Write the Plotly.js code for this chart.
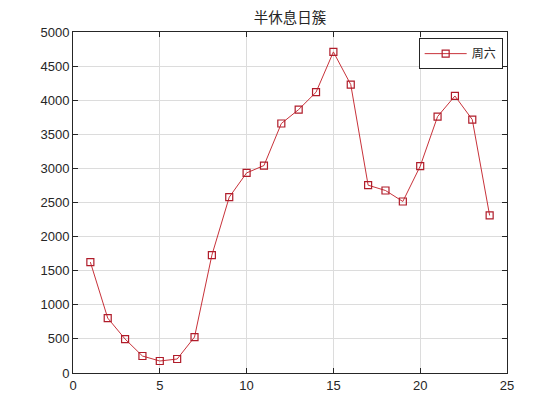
<!DOCTYPE html>
<html><head><meta charset="utf-8">
<script src="https://cdn.plot.ly/plotly-3.0.1.min.js"></script>
<style>html,body{margin:0;padding:0;background:#fff}#c{width:560px;height:420px}</style>
</head><body><div id="c"></div>
<script>
var hours = [1,2,3,4,5,6,7,8,9,10,11,12,13,14,15,16,17,18,19,20,21,22,23,24];
var saturday = [1626,805,498,249,176,205,527,1728,2578,2934,3042,3658,3863,4117,4708,4229,2754,2676,2515,3032,3760,4062,3716,2310];
var seriesName = '周六';
var chartTitle = '半休息日簇';

var axisCommon = {
  showline: true, mirror: 'ticks', linecolor: '#262626', linewidth: 1,
  ticks: 'inside', ticklen: 5, tickcolor: '#262626',
  showgrid: true, gridcolor: '#dcdcdc', gridwidth: 1, zeroline: false,
  tickfont: {family: 'Liberation Sans, Arial, sans-serif', size: 13, color: '#262626'}
};
var layout = {
  width: 560, height: 420,
  margin: {l: 73, r: 53, t: 32, b: 47},
  paper_bgcolor: '#fff', plot_bgcolor: '#fff',
  title: {text: chartTitle, x: 0.518, xanchor: 'center', y: 0.958, yanchor: 'middle',
          font: {family: 'Noto Sans CJK SC, sans-serif', size: 14.5, color: '#262626'}},
  xaxis: Object.assign({}, axisCommon, {range: [0, 25], tickvals: [0,5,10,15,20,25]}),
  yaxis: Object.assign({}, axisCommon, {range: [0, 5000], tickvals: [0,500,1000,1500,2000,2500,3000,3500,4000,4500,5000]}),
  showlegend: true,
  legend: {x: 0.99, xanchor: 'right', y: 0.982, yanchor: 'top', bgcolor: '#fff',
           bordercolor: '#262626', borderwidth: 1, itemwidth: 42,
           font: {family: 'Noto Sans CJK SC, sans-serif', size: 12, color: '#262626'}}
};
var trace = {
  x: hours, y: saturday, name: seriesName, type: 'scatter', mode: 'lines+markers',
  line: {color: '#c8323a', width: 1},
  marker: {symbol: 'square-open', size: 7, color: '#b01c2a', line: {width: 1.2, color: '#b01c2a'}}
};
Plotly.newPlot('c', [trace], layout, {displayModeBar: false, staticPlot: true});
</script></body></html>
